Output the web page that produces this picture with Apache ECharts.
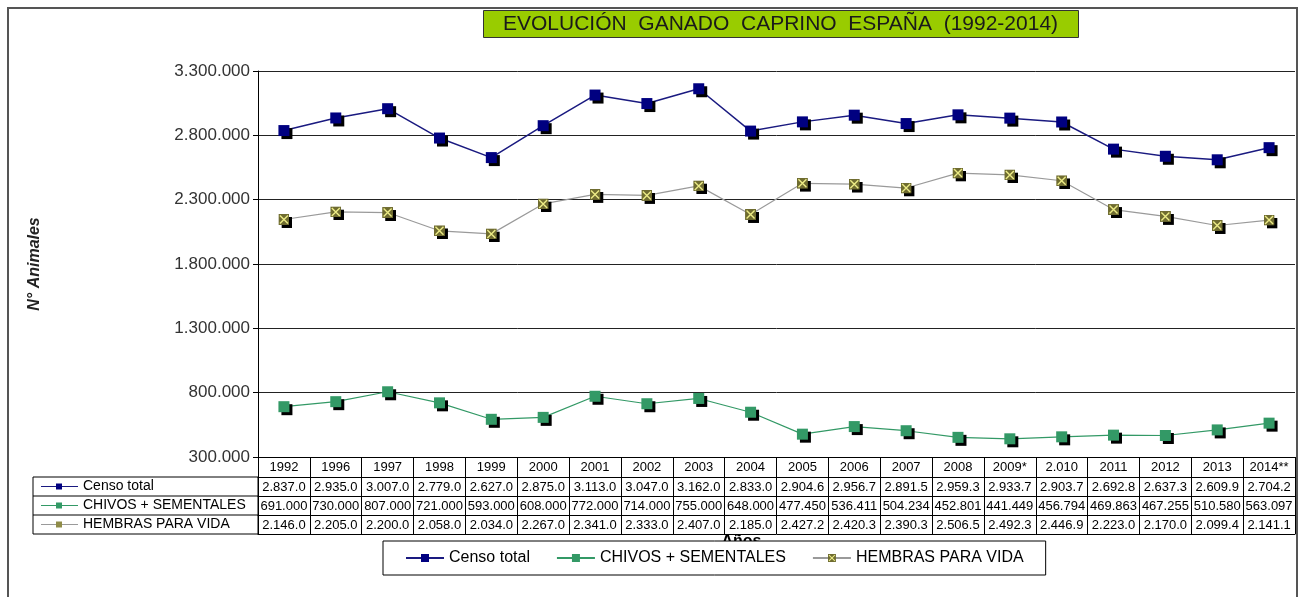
<!DOCTYPE html>
<html>
<head>
<meta charset="utf-8">
<title>Evolución ganado caprino España</title>
<script src="https://cdn.jsdelivr.net/npm/echarts@6/dist/echarts.min.js"></script>
<style>
  html, body { margin: 0; padding: 0; background: #fff; }
  #chart { width: 1304px; height: 597px; }
</style>
</head>
<body>
<div id="chart"></div>
<script>
// years as written in the original table
var years = ['1992', '1996', '1997', '1998', '1999', '2000', '2001', '2002', '2003', '2004',
  '2005', '2006', '2007', '2008', '2009*', '2.010', '2011', '2012', '2013', '2014**']

var censoTotal = [2837000, 2935000, 3007000, 2779000, 2627000, 2875000, 3113000, 3047000, 3162000, 2833000,
  2904600, 2956700, 2891500, 2959300, 2933700, 2903700, 2692800, 2637300, 2609900, 2704200]

var chivosSementales = [691000, 730000, 807000, 721000, 593000, 608000, 772000, 714000, 755000, 648000,
  477450, 536411, 504234, 452801, 441449, 456794, 469863, 467255, 510580, 563097]

var hembrasVida = [2146000, 2205000, 2200000, 2058000, 2034000, 2267000, 2341000, 2333000, 2407000, 2185000,
  2427200, 2420300, 2390300, 2506500, 2492300, 2446900, 2223000, 2170000, 2099400, 2141100]

var seriesNames = ['Censo total', 'CHIVOS + SEMENTALES', 'HEMBRAS PARA VIDA']
var seriesColors = ['#000080', '#339966', '#8f8c48']
var lineColors = ['#1a1a80', '#339966', '#9a9a9a']

var FONT = '"Liberation Sans", Arial, sans-serif'

// khaki square with a light cross, like the excel marker
var hembrasSymbol = 'image://data:image/svg+xml;utf8,' + encodeURIComponent(
  '<svg xmlns="http://www.w3.org/2000/svg" width="11" height="11">' +
  '<rect width="11" height="11" fill="#6f6c30"/>' +
  '<path d="M1.5 1.5L9.5 9.5M9.5 1.5L1.5 9.5" stroke="#eceb86" stroke-width="1.4"/></svg>')

function dots(v) {
  return Math.round(v).toString().replace(/\B(?=(\d{3})+(?!\d))/g, '.')
}
// the table cells only show the first 7 characters
function cell(v) {
  return dots(v).slice(0, 7)
}

var chart = echarts.init(document.getElementById('chart'), null, { renderer: 'canvas' })

var PLOT_LEFT = 258
var PLOT_BOTTOM = 457
var ROW_H = 19
var TABLE_LEFT = 33

function tableAxis(offset, values, extra) {
  var ax = {
    type: 'category',
    data: years,
    gridIndex: 0,
    position: 'bottom',
    offset: offset,
    boundaryGap: true,
    axisLine: { show: true, lineStyle: { color: '#000', width: 1 } },
    axisTick: { show: true, interval: 0, length: ROW_H, lineStyle: { color: '#000', width: 1 } },
    axisLabel: {
      show: !!values,
      interval: 0,
      margin: 4,
      fontFamily: FONT,
      fontSize: 13,
      color: '#000',
      formatter: function(val, idx) {
        return values ? values[idx] : ''
      }
    },
    splitLine: { show: false }
  }
  return Object.assign(ax, extra || {})
}

var xAxes = [
  tableAxis(0, years, {
    name: 'Años',
    nameLocation: 'middle',
    nameGap: 77,
    nameTextStyle: { fontFamily: FONT, fontSize: 16, fontWeight: 'bold', color: '#000', padding: [0, 70, 0, 0] }
  }),
  tableAxis(ROW_H + 1, censoTotal.map(cell)),
  tableAxis(ROW_H * 2 + 1, chivosSementales.map(cell)),
  tableAxis(ROW_H * 3 + 1, hembrasVida.map(cell)),
  tableAxis(ROW_H * 4 + 1, null, { axisTick: { show: false } })
]
xAxes[0].axisTick.length = ROW_H + 1

// left column of the data table: series keys
var keyGraphics = [{
  type: 'rect',
  shape: { x: TABLE_LEFT, y: PLOT_BOTTOM + ROW_H + 1, width: PLOT_LEFT - TABLE_LEFT, height: ROW_H * 3 },
  style: { fill: 'none', stroke: '#000', lineWidth: 1 },
  z: 10
}]
seriesNames.forEach(function(name, i) {
  var y = PLOT_BOTTOM + ROW_H + 1 + ROW_H * i
  if (i > 0) {
    keyGraphics.push({
      type: 'line',
      shape: { x1: TABLE_LEFT, y1: y, x2: PLOT_LEFT, y2: y },
      style: { stroke: '#000', lineWidth: 1 },
      z: 10
    })
  }
  keyGraphics.push({
    type: 'line',
    shape: { x1: TABLE_LEFT + 8, y1: y + ROW_H / 2, x2: TABLE_LEFT + 45, y2: y + ROW_H / 2 },
    style: { stroke: lineColors[i], lineWidth: 1.2 },
    z: 10
  })
  keyGraphics.push({
    type: 'rect',
    shape: { x: TABLE_LEFT + 23, y: y + ROW_H / 2 - 3, width: 6, height: 6 },
    style: { fill: seriesColors[i] },
    z: 10
  })
  keyGraphics.push({
    type: 'text',
    x: TABLE_LEFT + 50,
    y: y + ROW_H / 2,
    style: { text: name, fontFamily: FONT, fontSize: 14, fill: '#000', textVerticalAlign: 'middle' },
    z: 10
  })
})

var graphics = [{
  type: 'rect',
  shape: { x: 8, y: 8, width: 1289, height: 700 },
  style: { fill: 'none', stroke: '#555', lineWidth: 2 },
  z: -1
}, {
  type: 'group',
  left: 483,
  top: 10,
  children: [{
    type: 'rect',
    shape: { x: 0, y: 0, width: 595, height: 27 },
    style: { fill: '#99cc00', stroke: '#333', lineWidth: 1 }
  }, {
    type: 'text',
    x: 297,
    y: 14,
    style: {
      text: 'EVOLUCIÓN  GANADO  CAPRINO  ESPAÑA  (1992-2014)',
      fontFamily: FONT,
      fontSize: 21,
      fill: '#1a1a1a',
      textAlign: 'center',
      textVerticalAlign: 'middle'
    }
  }]
}].concat(keyGraphics)

function lineSeries(i, data, symbol) {
  return {
    name: seriesNames[i],
    type: 'line',
    xAxisIndex: 0,
    yAxisIndex: 0,
    data: data,
    symbol: symbol,
    symbolSize: 11,
    showAllSymbol: true,
    lineStyle: { color: lineColors[i], width: i === 0 ? 1.5 : 1.2 },
    itemStyle: {
      color: seriesColors[i],
      shadowColor: '#000',
      shadowBlur: 0,
      shadowOffsetX: 3,
      shadowOffsetY: 3
    },
    emphasis: { disabled: true },
    z: 3
  }
}

chart.setOption({
  animation: false,
  textStyle: { fontFamily: FONT },
  grid: {
    left: PLOT_LEFT,
    right: 9,
    top: 71,
    bottom: 597 - PLOT_BOTTOM,
    containLabel: false
  },
  legend: {
    data: seriesNames,
    left: 383,
    top: 541,
    padding: [9, 22, 9, 22],
    backgroundColor: '#fff',
    borderColor: '#000',
    borderWidth: 1,
    borderRadius: 0,
    itemGap: 26,
    itemWidth: 38,
    itemHeight: 10,
    itemStyle: { shadowColor: 'transparent', shadowOffsetX: 0, shadowOffsetY: 0 },
    textStyle: { fontFamily: FONT, fontSize: 16, color: '#000' },
    z: 20
  },
  xAxis: xAxes,
  yAxis: {
    type: 'value',
    min: 300000,
    max: 3300000,
    interval: 500000,
    axisLine: { show: true, lineStyle: { color: '#000', width: 1 } },
    axisTick: { show: true, length: 5, lineStyle: { color: '#000' } },
    axisLabel: {
      margin: 8,
      fontFamily: FONT,
      fontSize: 17,
      color: '#333',
      formatter: function(v) {
        return dots(v)
      }
    },
    splitLine: { show: true, lineStyle: { color: '#222', width: 1 } },
    name: 'N° Animales',
    nameLocation: 'middle',
    nameRotate: 90,
    nameGap: 215,
    nameTextStyle: { fontFamily: FONT, fontSize: 16, fontWeight: 'bold', fontStyle: 'italic', color: '#222' }
  },
  graphic: graphics,
  series: [
    lineSeries(0, censoTotal, 'rect'),
    lineSeries(1, chivosSementales, 'rect'),
    lineSeries(2, hembrasVida, hembrasSymbol)
  ]
})
</script>
</body>
</html>
